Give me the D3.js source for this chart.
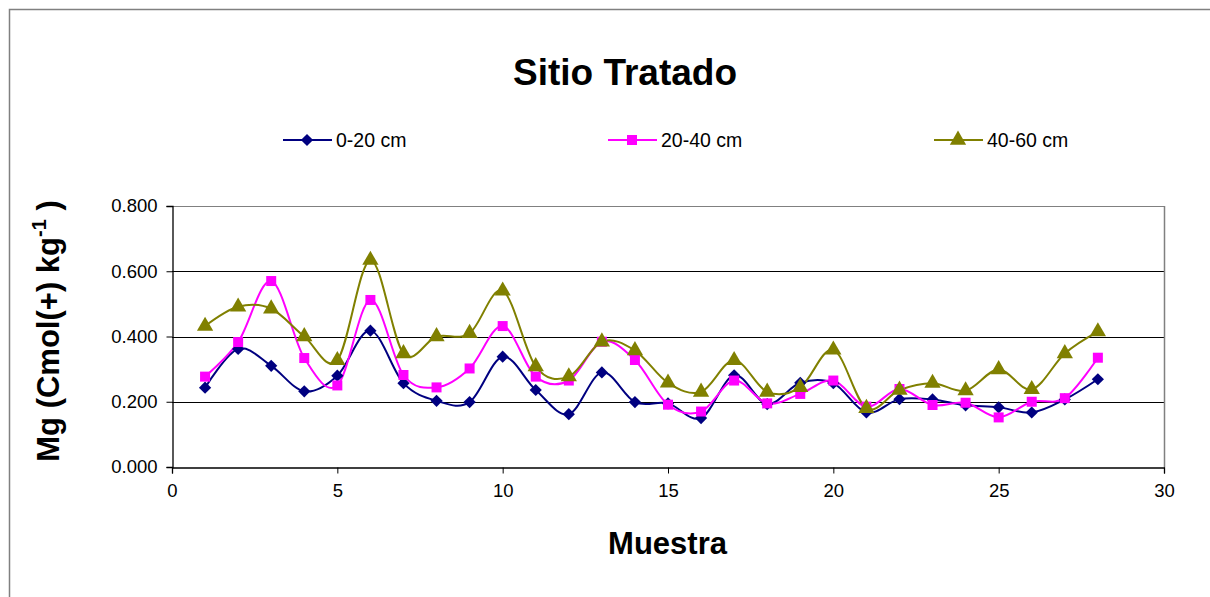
<!DOCTYPE html>
<html>
<head>
<meta charset="utf-8">
<script src="https://cdn.jsdelivr.net/npm/d3@7"></script>
<style>
  html, body { margin: 0; padding: 0; background: #fff; }
  svg { display: block; font-family: "Liberation Sans", Arial, sans-serif; }
</style>
</head>
<body>
<svg id="chart" width="1210" height="597"></svg>
<script>
const samples = d3.range(1, 29);
const seriesNames = ["0-20 cm", "20-40 cm", "40-60 cm"];
const s0_20 = [0.243,0.362,0.310,0.232,0.280,0.418,0.257,0.203,0.199,0.338,0.236,0.162,0.290,0.199,0.195,0.150,0.281,0.193,0.258,0.257,0.167,0.208,0.207,0.189,0.183,0.167,0.207,0.269];
const s20_40 = [0.277,0.383,0.570,0.334,0.250,0.512,0.282,0.244,0.302,0.432,0.277,0.265,0.384,0.328,0.191,0.170,0.265,0.195,0.224,0.265,0.185,0.239,0.190,0.197,0.152,0.200,0.211,0.335];
const s40_60 = [0.432,0.491,0.485,0.400,0.327,0.634,0.348,0.400,0.410,0.540,0.308,0.277,0.384,0.357,0.258,0.230,0.327,0.230,0.244,0.359,0.180,0.236,0.257,0.234,0.299,0.238,0.348,0.415];
const xTicks = [0, 5, 10, 15, 20, 25, 30];
const yTicks = [0, 0.2, 0.4, 0.6, 0.8];
const colors = ["#000080", "#FF00FF", "#808000"];
const symbols = [d3.symbolDiamond2, d3.symbolSquare, d3.symbolTriangle];
const symSizes = [95, 100, 115];

const svg = d3.select("#chart");
const L = 172, R = 1164, T = 206, B = 467;
const x = d3.scaleLinear().domain([0, 30]).range([L, R]);
const y = d3.scaleLinear().domain([0, 0.8]).range([B, T]);

// outer frame
svg.append("path").attr("d", `M9.5,620 V9.5 H1230`).attr("fill", "none").attr("stroke", "#808080").attr("stroke-width", 1.5);

// gridlines
svg.append("g").selectAll("line").data(yTicks.filter(d => d > 0)).join("line")
  .attr("x1", L).attr("x2", R)
  .attr("y1", d => Math.round(y(d)) + 0.5).attr("y2", d => Math.round(y(d)) + 0.5)
  .attr("stroke", d => d === 0.8 ? "#808080" : "#000").attr("stroke-width", 1);
// plot border right
svg.append("line").attr("x1", R + 0.5).attr("x2", R + 0.5).attr("y1", T).attr("y2", B).attr("stroke", "#808080").attr("stroke-width", 1.5);

// axes
const yAxis = d3.axisLeft(y).tickValues(yTicks).tickFormat(d3.format(".3f")).tickSize(6).tickPadding(9);
const gy = svg.append("g").attr("transform", `translate(${L + 0.5},0)`).call(yAxis);
const xAxis = d3.axisBottom(x).tickValues(xTicks).tickFormat(d3.format("d")).tickSize(6).tickPadding(10);
const gx = svg.append("g").attr("transform", `translate(0,${B + 0.5})`).call(xAxis);
[gx, gy].forEach(g => {
  g.select(".domain").attr("stroke", "#000").attr("stroke-width", 1.3);
  g.selectAll(".tick line").attr("stroke", "#000");
  g.selectAll(".tick text").attr("font-size", 18.5).attr("fill", "#000").attr("font-family", "Liberation Sans, Arial, sans-serif");
});

// series
const allSeries = [s0_20, s20_40, s40_60];
const line = d3.line().x((d, i) => x(samples[i])).y(d => y(d)).curve(d3.curveCardinal.tension(0));
allSeries.forEach((vals, k) => {
  svg.append("path").datum(vals).attr("d", line)
    .attr("fill", "none").attr("stroke", colors[k]).attr("stroke-width", 2);
});
allSeries.forEach((vals, k) => {
  svg.append("g").selectAll("path").data(vals).join("path")
    .attr("transform", (d, i) => `translate(${x(samples[i])},${y(d)})`)
    .attr("d", d3.symbol().type(symbols[k]).size(symSizes[k]))
    .attr("fill", colors[k]);
});

// title
svg.append("text").attr("x", 625).attr("y", 85).attr("text-anchor", "middle")
  .attr("font-size", 37).attr("font-weight", "bold").text("Sitio Tratado");

// legend
const legX = [283, 608, 934];
seriesNames.forEach((name, k) => {
  const g = svg.append("g");
  g.append("line").attr("x1", legX[k]).attr("x2", legX[k] + 49).attr("y1", 140).attr("y2", 140)
    .attr("stroke", colors[k]).attr("stroke-width", 2);
  g.append("path").attr("transform", `translate(${legX[k] + 24},140)`)
    .attr("d", d3.symbol().type(symbols[k]).size(symSizes[k])).attr("fill", colors[k]);
  g.append("text").attr("x", legX[k] + 53).attr("y", 140).attr("dy", "0.35em")
    .attr("font-size", 19.5).text(name);
});

// axis titles
svg.append("text").attr("x", 667.5).attr("y", 554).attr("text-anchor", "middle")
  .attr("font-size", 31).attr("font-weight", "bold").text("Muestra");

const yt = svg.append("text").attr("transform", "translate(59,331) rotate(-90)")
  .attr("text-anchor", "middle").attr("font-size", 31).attr("font-weight", "bold");
yt.append("tspan").text("Mg (Cmol(+) kg");
yt.append("tspan").attr("font-size", 20).attr("dy", -13).text("-1");
yt.append("tspan").attr("dy", 13).text(" )");
</script>
</body>
</html>
